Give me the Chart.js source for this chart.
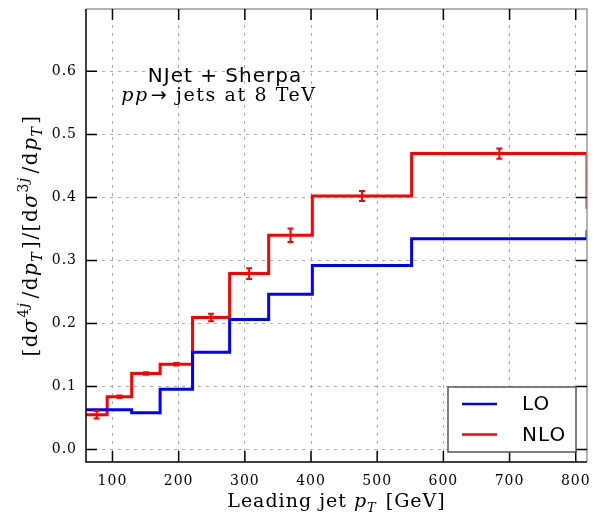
<!DOCTYPE html>
<html>
<head>
<meta charset="utf-8">
<title>4-jet / 3-jet ratio</title>
<script src="https://cdn.jsdelivr.net/npm/chart.js@4.4.1/dist/chart.umd.min.js"></script>
<style>
  html,body{margin:0;padding:0;background:#fff}
  #box{width:594px;height:517px}
</style>
</head>
<body>
<div id="box"><canvas id="mychart" width="594" height="517"></canvas></div>
<script>
// histogram bin edges in leading jet pT (GeV)
var edges=[60,92,129,172,221,277,336,402,552,817]
// ratio per bin; the last entry is the bin that starts at the right edge
var lo=[0.063,0.063,0.058,0.0956,0.154,0.206,0.2464,0.2918,0.3345,0.348]
var nlo=[0.055,0.0834,0.1205,0.1352,0.2094,0.2791,0.3399,0.4022,0.4695,0.382]
var nloErr=[0.006,0.002,0.002,0.002,0.006,0.0085,0.0106,0.008,0.008]
var seriesNames=["LO","NLO"]

var serif='"DejaVu Serif", serif'
var sans='"DejaVu Sans", sans-serif'

function steps(vals){
  var pts=[]
  for(var i=0;i<edges.length;i++) pts.push({x:edges[i],y:vals[i]})
  return pts
}

// little helper for text with super/subscripts and italics
function setFont(ctx,s,base){
  var px=Math.round(base*(s.sc||1))
  ctx.font=(s.it?'italic ':'')+px+'px '+(s.fam||serif)
}
function runWidth(ctx,segs,base){
  var w=0
  segs.forEach(function(s){
    setFont(ctx,s,base)
    w+=ctx.measureText(s.t).width+(s.gap||0)
  })
  return w
}
function drawRun(ctx,segs,x,y,base){
  segs.forEach(function(s){
    setFont(ctx,s,base)
    ctx.fillText(s.t,x,y+(s.dy||0)*base)
    x+=ctx.measureText(s.t).width+(s.gap||0)
  })
}

var yTitle=[
  {t:"[d"},{t:"σ",it:1},{t:"4",sc:0.7,dy:-0.45},{t:"j",it:1,sc:0.7,dy:-0.45,gap:3},
  {t:"/d"},{t:"p",it:1},{t:"T",it:1,sc:0.7,dy:0.25,gap:2},{t:"]/[d"},{t:"σ",it:1},
  {t:"3",sc:0.7,dy:-0.45},{t:"j",it:1,sc:0.7,dy:-0.45,gap:3},{t:"/d"},{t:"p",it:1},
  {t:"T",it:1,sc:0.7,dy:0.25,gap:2},{t:"]"}
]
var xTitle=[
  {t:"Leading jet "},{t:"p",it:1},{t:"T",it:1,sc:0.7,dy:0.25,gap:9},{t:"[GeV]"}
]
var subTitle=[
  {t:"pp",it:1,gap:2},{t:"→",fam:sans},{t:" jets at 8 TeV"}
]

function noPad(s){
  s.paddingLeft=0;s.paddingRight=0;s.paddingTop=0;s.paddingBottom=0
}

var decor={
  id:'decor',
  beforeDraw:function(chart){
    chart.ctx.letterSpacing='1px'
  },
  afterDatasetsDraw:function(chart){
    var c=chart.ctx, a=chart.chartArea, sx=chart.scales.x, sy=chart.scales.y
    c.save()
    // NLO error bars at the bin centres
    c.strokeStyle='#ff0000'
    c.lineWidth=2
    for(var i=0;i<nloErr.length;i++){
      var px=sx.getPixelForValue((edges[i]+edges[i+1])/2)
      var y1=sy.getPixelForValue(nlo[i]-nloErr[i])
      var y2=sy.getPixelForValue(nlo[i]+nloErr[i])
      c.beginPath()
      c.moveTo(px,y1);c.lineTo(px,y2)
      c.moveTo(px-3,y1);c.lineTo(px+3,y1)
      c.moveTo(px-3,y2);c.lineTo(px+3,y2)
      c.stroke()
    }
    // frame
    c.lineWidth=1.5
    c.strokeStyle='#999'
    c.beginPath()
    c.moveTo(a.left,a.top);c.lineTo(a.right,a.top);c.lineTo(a.right,a.bottom)
    c.stroke()
    c.strokeStyle='#000'
    c.beginPath()
    c.moveTo(a.left,a.top);c.lineTo(a.left,a.bottom);c.lineTo(a.right,a.bottom)
    c.stroke()
    // inward ticks on all four sides
    var len=11
    c.beginPath()
    sx.ticks.forEach(function(t){
      var p=sx.getPixelForValue(t.value)
      c.moveTo(p,a.bottom);c.lineTo(p,a.bottom-len)
      c.moveTo(p,a.top);c.lineTo(p,a.top+len)
    })
    sy.ticks.forEach(function(t){
      var p=sy.getPixelForValue(t.value)
      c.moveTo(a.left,p);c.lineTo(a.left+len,p)
      c.moveTo(a.right,p);c.lineTo(a.right-len,p)
    })
    c.stroke()
    c.restore()
  },
  afterDraw:function(chart){
    var c=chart.ctx, a=chart.chartArea
    c.save()
    c.fillStyle='#000'
    c.textBaseline='alphabetic'

    // axis titles
    c.letterSpacing='1px'
    var w=runWidth(c,xTitle,19)
    drawRun(c,xTitle,(a.left+a.right)/2-w/2,507,19)

    c.save()
    c.letterSpacing='1.5px'
    c.translate(37,(a.top+a.bottom)/2)
    c.rotate(-Math.PI/2)
    w=runWidth(c,yTitle,20)
    drawRun(c,yTitle,-w/2,0,20)
    c.restore()

    // annotation
    c.letterSpacing='1px'
    c.font='20px '+sans
    c.textAlign='center'
    c.fillText('NJet + Sherpa',a.left+139,82)
    c.textAlign='left'
    c.letterSpacing='1.6px'
    w=runWidth(c,subTitle,19)
    drawRun(c,subTitle,a.left+133-w/2,101,19)

    // legend box
    c.letterSpacing='1px'
    var bw=128,bh=65,bx=a.right-11-bw,by=a.bottom-10-bh
    c.fillStyle='#fff'
    c.fillRect(bx,by,bw,bh)
    c.strokeStyle='#555'
    c.lineWidth=1.5
    c.strokeRect(bx,by,bw,bh)
    chart.data.datasets.forEach(function(ds,i){
      var ly=by+17+i*30.5
      c.strokeStyle=ds.borderColor
      c.lineWidth=2.5
      c.beginPath()
      c.moveTo(bx+14,ly);c.lineTo(bx+49,ly)
      c.stroke()
      c.fillStyle='#000'
      c.font='20px '+sans
      c.textBaseline='middle'
      c.fillText(ds.label,bx+74,ly+1)
    })
    c.restore()
  }
}

var mychart=document.getElementById("mychart").getContext('2d')

var chart=new Chart(mychart,{
  type:'line',
  data:{
    datasets:[
      {
        label:seriesNames[0],
        data:steps(lo),
        borderColor:"#0000ff",
        borderWidth:3,
        stepped:'before',
        pointRadius:0,
        fill:false,
        clip:0
      },
      {
        label:seriesNames[1],
        data:steps(nlo),
        borderColor:"#ff0000",
        borderWidth:3,
        stepped:'before',
        pointRadius:0,
        fill:false,
        clip:0
      }
    ]
  },
  options:{
    responsive:false,
    animation:false,
    layout:{padding:{left:0,right:7,top:9,bottom:0}},
    plugins:{legend:{display:false},tooltip:{enabled:false}},
    scales:{
      x:{
        type:'linear',
        min:60,
        max:817,
        grid:{color:'#aaa',lineWidth:1,drawTicks:false},
        border:{display:false,dash:[3,5]},
        ticks:{
          stepSize:100,
          includeBounds:false,
          maxRotation:0,
          padding:11,
          color:'#000',
          font:{family:serif,size:14}
        },
        afterFit:function(s){s.height=55;noPad(s)}
      },
      y:{
        min:-0.02,
        max:0.699,
        grid:{color:'#aaa',lineWidth:1,drawTicks:false},
        border:{display:false,dash:[3,5]},
        ticks:{
          stepSize:0.1,
          includeBounds:false,
          padding:9,
          color:'#000',
          font:{family:serif,size:14},
          callback:function(v){return v.toFixed(1)}
        },
        afterFit:function(s){s.width=86;noPad(s)}
      }
    }
  },
  plugins:[decor]
})
</script>
</body>
</html>
